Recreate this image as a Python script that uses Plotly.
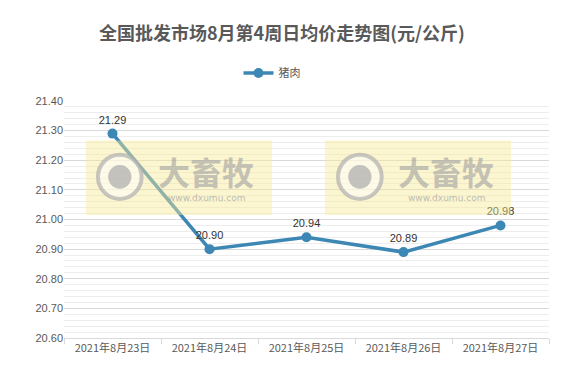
import plotly.graph_objects as go

categories = ["2021年8月23日", "2021年8月24日", "2021年8月25日", "2021年8月26日", "2021年8月27日"]
pork = [21.29, 20.90, 20.94, 20.89, 20.98]
labels = ["21.29", "20.90", "20.94", "20.89", "20.98"]

FONT = "Liberation Sans, Noto Sans CJK SC, sans-serif"
CJK = "Noto Sans CJK SC, sans-serif"
BLUE = "#3D87B4"

fig = go.Figure()
fig.add_trace(go.Scatter(
    x=categories, y=pork, name="猪肉", mode="lines+markers+text",
    line=dict(color=BLUE, width=3.5),
    marker=dict(color=BLUE, size=10),
    text=labels, textposition="top center",
    textfont=dict(family=FONT, size=11, color="#333333"),
    cliponaxis=False,
))

shapes = []
annotations = []
for (x0, x1, cx, tx) in [(0.045, 0.429, 0.115, 0.293), (0.538, 0.922, 0.610, 0.788)]:
    shapes.append(dict(type="rect", xref="paper", yref="paper", x0=x0, x1=x1, y0=0.519, y1=0.833,
                       fillcolor="rgba(246,232,150,0.45)", line=dict(width=0), layer="above"))
    shapes.append(dict(type="circle", xref="paper", yref="paper",
                       x0=cx - 0.045, x1=cx + 0.045, y0=0.587, y1=0.773,
                       fillcolor="rgba(255,255,255,0.5)", line=dict(color="rgba(175,175,175,0.7)", width=4), layer="above"))
    shapes.append(dict(type="circle", xref="paper", yref="paper",
                       x0=cx - 0.024, x1=cx + 0.024, y0=0.630, y1=0.730,
                       fillcolor="rgba(170,170,170,0.7)", line=dict(width=0), layer="above"))
    annotations.append(dict(xref="paper", yref="paper", x=tx, y=0.705, xanchor="center", yanchor="middle",
                            text="<b>大畜牧</b>", showarrow=False,
                            font=dict(family=CJK, size=32, color="rgba(160,160,160,0.6)")))
    annotations.append(dict(xref="paper", yref="paper", x=tx, y=0.59, xanchor="center", yanchor="middle",
                            text="www.dxumu.com", showarrow=False,
                            font=dict(family="DejaVu Sans, sans-serif", size=9, color="rgba(160,160,160,0.7)")))

annotations.append(dict(xref="paper", yref="paper", x=(282 - 64) / 485, y=(338 - 32) / 237,
                        xanchor="center", yanchor="middle",
                        text="<b>全国批发市场8月第4周日均价走势图(元/公斤)</b>", showarrow=False,
                        font=dict(family=CJK, size=18, color="#595959")))

fig.update_layout(
    width=584, height=386,
    margin=dict(l=64, r=35, t=101, b=48),
    paper_bgcolor="white", plot_bgcolor="white",
    font=dict(family=FONT, size=11, color="#595959"),
    showlegend=True,
    legend=dict(orientation="h", x=(272 - 64) / 485, xanchor="center", y=(338 - 73) / 237, yanchor="middle",
                font=dict(family=CJK, size=11, color="#595959")),
    shapes=shapes,
    annotations=annotations,
)
fig.update_yaxes(
    range=[20.6, 21.4], dtick=0.1, tickformat=".2f",
    showgrid=True, gridcolor="#D9D9D9", gridwidth=1,
    minor=dict(dtick=0.02, showgrid=True, gridcolor="#EDEDED", gridwidth=1),
    zeroline=False, showline=False, ticks="",
    tickfont=dict(family=FONT, size=11, color="#595959"),
)
fig.update_xaxes(
    type="category", range=[-0.5, 4.5], showgrid=False, showline=True, linecolor="#D9D9D9", linewidth=1,
    ticks="outside", tickson="boundaries", ticklen=5, tickcolor="#D9D9D9",
    tickfont=dict(family=CJK, size=11, color="#595959"),
)

fig.write_html("out.html", config={"displayModeBar": False},
               post_script="document.body.style.margin='0';")
